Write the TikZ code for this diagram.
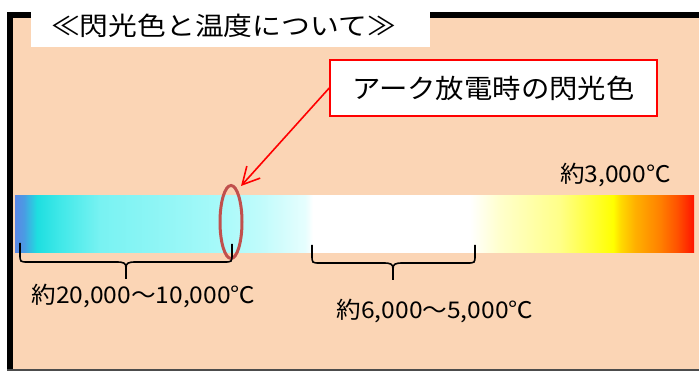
\documentclass[tikz,border=0pt]{standalone}
\usepackage{fontspec}
\newfontfamily\jp{Noto Sans CJK JP}
\usetikzlibrary{shapes.geometric,arrows.meta}
\definecolor{peach}{HTML}{FBD5B5}
\definecolor{ovalred}{HTML}{C0504D}
\definecolor{sA}{HTML}{5B87E5}
\definecolor{sB}{HTML}{4A9CE3}
\definecolor{sC}{HTML}{1EDEE0}
\definecolor{sD}{HTML}{40E8E8}
\definecolor{sE}{HTML}{78F2F2}
\definecolor{sF}{HTML}{A6F9F9}
\definecolor{sG}{HTML}{C0FBFB}
\definecolor{sH}{HTML}{E6FEFE}
\definecolor{sI}{HTML}{FFFFFF}
\definecolor{sJ}{HTML}{FFFFCC}
\definecolor{sK}{HTML}{FFFF88}
\definecolor{sL}{HTML}{FFFF00}
\definecolor{sM}{HTML}{FFD800}
\definecolor{sN}{HTML}{FFB000}
\definecolor{sO}{HTML}{FF8000}
\definecolor{sP}{HTML}{FF5200}
\definecolor{sQ}{HTML}{FF1400}
\pgfdeclarehorizontalshading{spectrum}{100bp}{color(0bp)=(sA); color(25bp)=(sA); color(25.66bp)=(sB); color(26.62bp)=(sC); color(28.31bp)=(sD); color(31.26bp)=(sE); color(39.87bp)=(sF); color(43.04bp)=(sG); color(46.36bp)=(sH); color(46.94bp)=(sI); color(58.51bp)=(sI); color(60.71bp)=(sJ); color(65.13bp)=(sK); color(69.04bp)=(sL); color(69.63bp)=(sM); color(70.66bp)=(sN); color(72.5bp)=(sO); color(73.75bp)=(sP); color(75bp)=(sQ); color(100bp)=(sQ)}
\newcommand\wtext[3]{\fontsize{#1}{#1}\selectfont\scalebox{#2}[1]{#3}}
\tikzset{
  lbl/.style={inner sep=0pt, text=black, font=\jp},
  bracestyle/.style={draw=black, line width=1.6pt},
  callout/.style={draw=red, fill=white, line width=1.5pt, inner sep=0pt, minimum width=327pt, minimum height=56pt, font=\jp},
}
\begin{document}
\begin{tikzpicture}[x=1pt,y=-1pt]
\useasboundingbox (0,0) rectangle (699,371);
% background and frame
\fill[peach] (13,18) rectangle (699,369);
\fill[black] (7,12) rectangle (13,369);
\fill[black] (7,12) rectangle (699,18);
\fill[black!70] (7,369) rectangle (699,371);
% title
\node[fill=white, inner sep=0pt, minimum width=399pt, minimum height=47pt] (titlebox) at (230.5,23.5) {};
\node[lbl] (title) at (223.5,25.5) {\wtext{25.5}{1.13}{≪閃光色と温度について≫}};
% gradient bar
\shade[shading=spectrum] (15,196) rectangle (694,253);
% callout
\node[callout] (call) at (493.5,88) {\wtext{26.5}{1.07}{アーク放電時の閃光色}};
\node[draw=ovalred, line width=3pt, ellipse, minimum width=22pt, minimum height=73pt, inner sep=0pt] (oval) at (231,222) {};
\coordinate (tip) at (241,186);
\draw[red, line width=1.6pt, -{Straight Barb[length=17pt,width=18pt]}] (call.west) -- (tip);
% braces
\draw[bracestyle] (20,243) -- (20,254) .. controls (20,262) .. (28,262) -- (116,262) .. controls (124,262) and (126,263) .. (126,268) -- (126,279);
\draw[bracestyle] (126,268) .. controls (126,263) and (128,262) .. (136,262) -- (224,262) .. controls (232,262) .. (232,254) -- (232,244);
\draw[bracestyle] (312,245) -- (312,255) .. controls (312,263) .. (320,263) -- (383,263) .. controls (391,263) and (393,264) .. (393,269) -- (393,280);
\draw[bracestyle] (393,269) .. controls (393,264) and (395,263) .. (403,263) -- (467,263) .. controls (475,263) .. (475,255) -- (475,245);
% labels
\node[lbl] (t1) at (143.5,296.5) {\wtext{23}{1.07}{約20,000～10,000℃}};
\node[lbl] (t2) at (435,311.5) {\wtext{23}{1.07}{約6,000～5,000℃}};
\node[lbl] (t3) at (615.5,175) {\wtext{23}{1.07}{約3,000℃}};
\end{tikzpicture}
\end{document}
